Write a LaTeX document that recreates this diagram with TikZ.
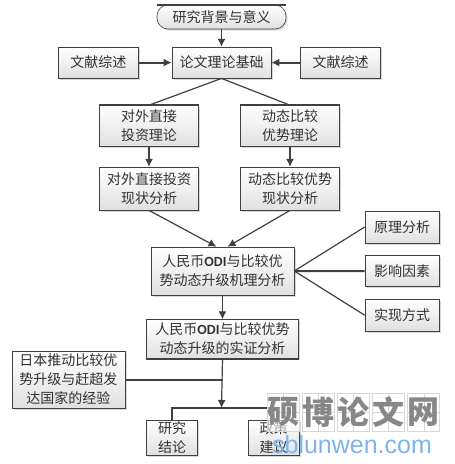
\documentclass[tikz,border=0pt]{standalone}
\usepackage{fontspec}
\setmainfont{Noto Sans CJK SC}
\newfontfamily\odifont{Carlito}
\newfontfamily\urlfont{Liberation Sans}
\usepackage{xcolor}
\usepackage{tikz}
\usetikzlibrary{arrows.meta,positioning,shadows}
\definecolor{linea}{RGB}{64,64,64}
\definecolor{texto}{RGB}{50,50,50}
\definecolor{marca}{RGB}{135,135,135}
\definecolor{rejilla}{RGB}{215,215,215}
\definecolor{azulweb}{RGB}{125,180,238}
\newcommand{\odi}{{\odifont\bfseries ODI}}

\begin{document}
\begin{tikzpicture}[x=1pt,y=1pt,
font=\fontsize{14}{19}\selectfont,
caja/.style={draw=linea,line width=0.6pt,top color=white,bottom color=black!12,text=texto,align=center,inner sep=0pt,
  drop shadow={shadow xshift=1.5pt,shadow yshift=-1.5pt,fill=black!30}},
topedge/.style={append after command={(\tikzlastnode.north west) edge[draw=linea,line width=1.6pt] (\tikzlastnode.north east)}},
botedge/.style={append after command={(\tikzlastnode.south west) edge[draw=linea,line width=1.6pt] (\tikzlastnode.south east)}},
inicio/.style={caja,topedge,rounded corners=11pt,minimum width=129pt,minimum height=24pt},
fuente/.style={caja,minimum width=80pt,minimum height=31pt},
teoria/.style={caja,minimum width=99pt,minimum height=41pt},
lado/.style={caja,minimum width=74pt,minimum height=32pt},
fin/.style={caja,minimum width=51pt,minimum height=35pt},
celda/.style={draw=rejilla,line width=0.7pt,fill=white,fill opacity=0.55,text opacity=1,minimum width=32pt,minimum height=38pt,inner sep=0pt,text=marca,font=\fontsize{32}{32}\selectfont\bfseries},
arr/.style={draw=linea,line width=1.2pt,-{Latex[length=8pt,width=8pt]}},
arrg/.style={draw=linea,line width=2pt,-{Latex[length=8pt,width=8pt]}},
lin/.style={draw=linea,line width=1.2pt},
ling/.style={draw=linea,line width=2pt}
]
\useasboundingbox (0,0) rectangle (455,-464);

\node[inicio] (fondo) at (221.5,-17) {研究背景与意义};
\node[fuente,minimum width=99pt,below=17.5pt of fondo] (base) {论文理论基础};
\node[fuente,left=33pt of base] (litizq) {文献综述};
\node[fuente,right=29pt of base] (litder) {文献综述};
\node[teoria,topedge] (oditeo) at (149,-126) {对外直接\\投资理论};
\node[teoria,topedge] (vcteo) at (290,-126) {动态比较\\优势理论};
\node[teoria,botedge,minimum height=43pt,below=20pt of oditeo] (odiact) {对外直接投资\\现状分析};
\node[teoria,botedge,minimum height=43pt,below=20pt of vcteo] (vcact) {动态比较优势\\现状分析};
\node[caja,minimum width=143pt,minimum height=48pt] (meca) at (222.5,-271) {人民币\odi{}与比较优\\势动态升级机理分析};
\node[lado,botedge] (princ) at (402,-227) {原理分析};
\node[lado,minimum height=31pt,below=12pt of princ] (factor) {影响因素};
\node[lado,below=12pt of factor] (modo) {实现方式};
\node[caja,botedge,minimum width=152pt,minimum height=39pt,below=24pt of meca] (empir) {人民币\odi{}与比较优势\\动态升级的实证分析};
\node[caja,botedge,minimum width=113pt,minimum height=57pt] (japon) at (68.5,-379.5) {\fontsize{14}{18}\selectfont 日本推动比较优\\势升级与赶超发\\达国家的经验};
\node[fin] (concl) at (172,-437.5) {研究\\结论};
\node[fin] (polit) at (273.5,-437.5) {政策\\建议};

\coordinate (cruce) at (empir.south |- japon.east);
\coordinate (bus) at (221.5,-408);

\draw[arr] (fondo) -- (base);
\draw[arrg] (litizq) -- (base);
\draw[arrg] (litder) -- (base);
\draw[lin] (base.south) -- (oditeo.north);
\draw[lin] (base.south) -- (vcteo.north);
\draw[arr] (oditeo) -- (odiact);
\draw[arr] (vcteo) -- (vcact);
\draw[arr] (odiact.south) -- ([xshift=-6pt]meca.north);
\draw[arr] (vcact.south) -- ([xshift=5pt]meca.north);
\draw[lin] (meca.east) -- (princ.west);
\draw[ling] (meca.east) -- (factor.west);
\draw[lin] (meca.east) -- (modo.west);
\draw[arr] (meca) -- (empir);
\draw[arr] (empir.south) -- (bus);
\draw[ling] (japon.east) -- (cruce);
\draw[ling] (concl.north) |- (bus);
\draw[ling] (polit.north) |- (bus);

% marca de agua
\foreach \i/\t in {0/硕,1/博,2/论,3/文,4/网}{
  \node[celda] (cel\i) at (283+35.2*\i,-412) {};
  \draw[rejilla,line width=0.5pt] (cel\i.north) -- (cel\i.south);
  \draw[rejilla,line width=0.5pt] (cel\i.west) -- (cel\i.east);
  \node[text=marca,inner sep=0pt,font=\fontsize{32}{32}\selectfont\bfseries] (zi\i) at (cel\i) {\t};
}
\node[font=\urlfont\fontsize{25}{26}\selectfont,text=azulweb,inner sep=0pt] (web) at (352,-445) {sblunwen.com};
\end{tikzpicture}
\end{document}
